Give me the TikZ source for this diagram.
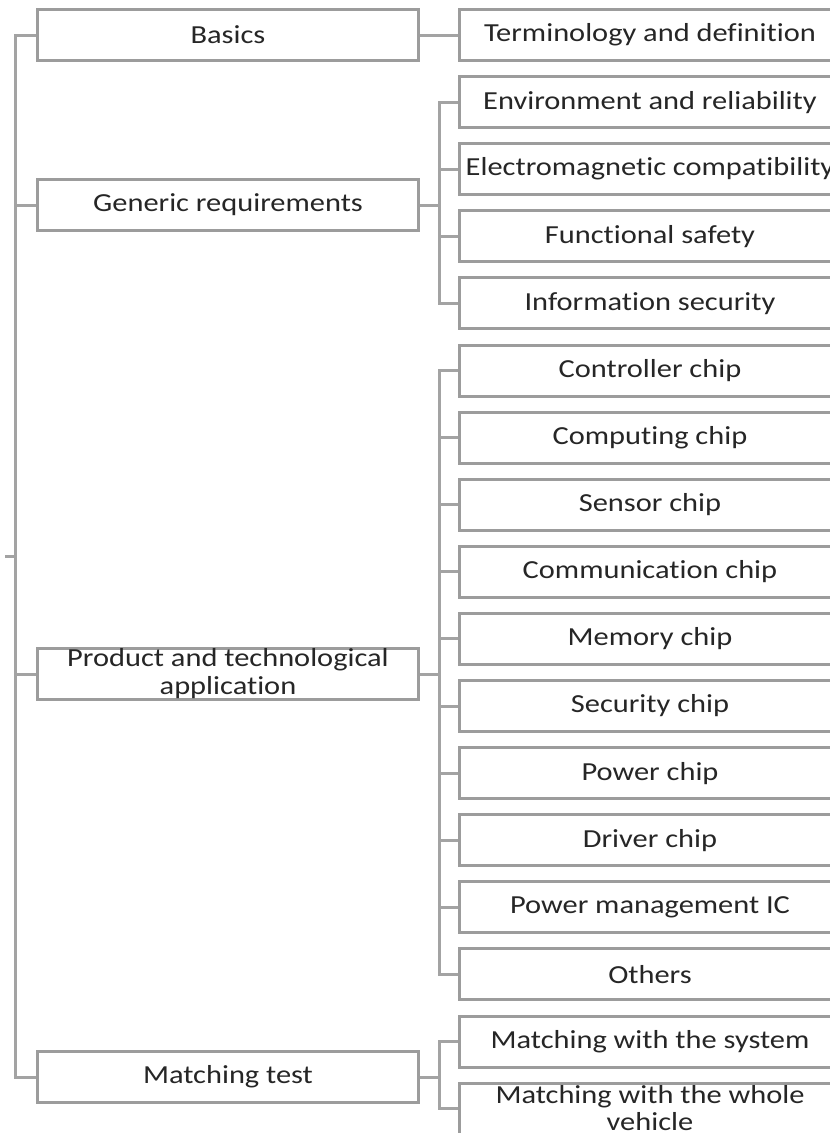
\documentclass[tikz,border=0pt]{standalone}
\usepackage{fontspec}
\setmainfont{Carlito}[FakeStretch=1.17, Ligatures=NoCommon]
\definecolor{boxline}{HTML}{9C9C9C}
\definecolor{linkline}{HTML}{A3A3A3}
\definecolor{labeltext}{HTML}{262626}
\tikzset{
  item/.style={draw=boxline, line width=3pt, fill=white,
    minimum width=381pt, minimum height=51pt, inner sep=0pt,
    align=center, text=labeltext, font=\fontsize{26}{28}\selectfont},
  link/.style={draw=linkline, line width=3pt}
}
\begin{document}
\begin{tikzpicture}[x=1pt,y=-1pt]
\useasboundingbox (0,0) rectangle (830,1133);
\clip (0,0) rectangle (830,1133);

% spine positions
\coordinate (root) at (5,556);
\coordinate (trunk) at (15,556);
\coordinate (bus) at (439,0);

% first level
\node[item] (basics)   at (228,35)   {Basics};
\node[item] (generic)  at (228,205)  {Generic requirements};
\node[item] (product)  at (228,674)  {Product and technological\\application};
\node[item] (matching) at (228,1077) {Matching test};

% second level, one column at a fixed pitch
\foreach \name/\k/\txt in {
  term/0/Terminology and definition,
  env/1/Environment and reliability,
  emc/2/Electromagnetic compatibility,
  fs/3/Functional safety,
  info/4/Information security,
  ctrl/5/Controller chip,
  comp/6/Computing chip,
  sens/7/Sensor chip,
  comm/8/Communication chip,
  mem/9/Memory chip,
  sec/10/Security chip,
  pwr/11/Power chip,
  drv/12/Driver chip,
  pmic/13/Power management IC,
  oth/14/Others,
  msys/15/Matching with the system}
  \node[item] (\name) at (650,{35+67.1*\k}) {\txt};
\node[item, font=\fontsize{26}{27}\selectfont] (mveh) at (650,{35+67.1*16})
  {\raisebox{2pt}{Matching with the whole}\\\raisebox{2pt}{vehicle}};

% root and trunk
\draw[link] (root) -- (trunk);
\draw[link] (basics.west) -| (trunk) |- (matching.west);
\draw[link] (generic.west) -- (generic.west -| trunk);
\draw[link] (product.west) -- (product.west -| trunk);

% basics
\draw[link] (basics.east) -- (term.west);

% generic requirements
\draw[link] (generic.east) -- (generic.east -| bus);
\draw[link] (env.west) -- (env.west -| bus) -- (info.west -| bus) -- (info.west);
\foreach \c in {emc,fs}
  \draw[link] (\c.west) -- (\c.west -| bus);

% product and technological application
\draw[link] (product.east) -- (product.east -| bus);
\draw[link] (ctrl.west) -- (ctrl.west -| bus) -- (oth.west -| bus) -- (oth.west);
\foreach \c in {comp,sens,comm,mem,sec,pwr,drv,pmic}
  \draw[link] (\c.west) -- (\c.west -| bus);

% matching test
\draw[link] (matching.east) -- (matching.east -| bus);
\draw[link] (msys.west) -- (msys.west -| bus) -- (mveh.west -| bus) -- (mveh.west);
\end{tikzpicture}
\end{document}
